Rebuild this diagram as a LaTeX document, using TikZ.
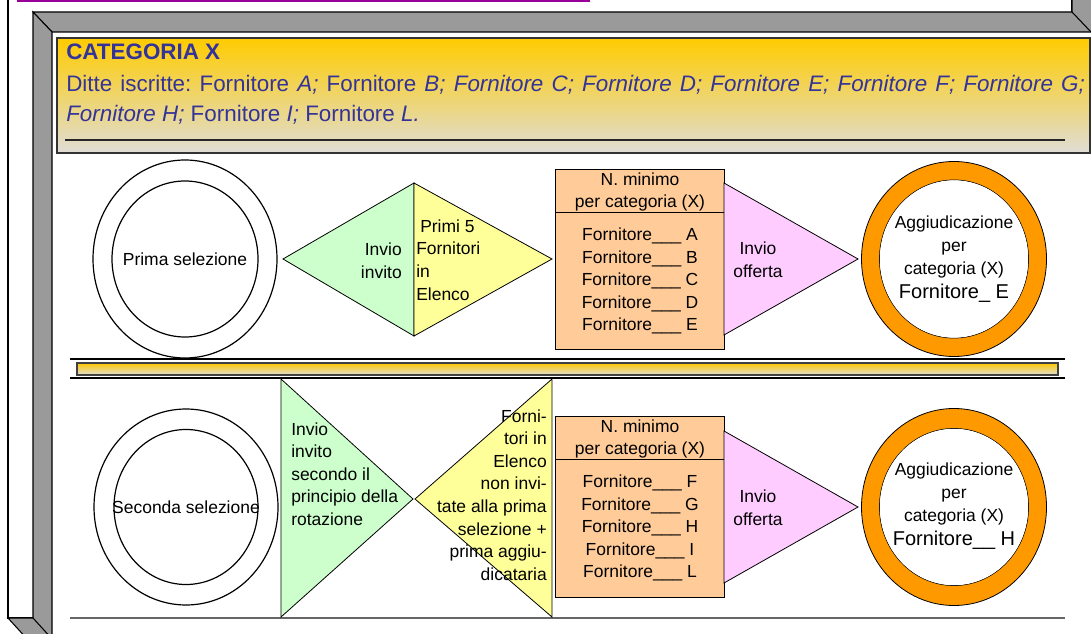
\documentclass[tikz,border=0pt]{standalone}
\usepackage{fontspec}
\setmainfont{Liberation Sans}
\usetikzlibrary{shapes.geometric}
\frenchspacing
\definecolor{fgray}{HTML}{9A9A9A}
\definecolor{hdrblue}{HTML}{333399}
\definecolor{gold}{HTML}{FFCC00}
\definecolor{greyish}{HTML}{DFDDD6}
\definecolor{lgreen}{HTML}{CCFFCC}
\definecolor{lyellow}{HTML}{FFFF99}
\definecolor{lorange}{HTML}{FFCC99}
\definecolor{lpink}{HTML}{FFCCFF}
\definecolor{dorange}{HTML}{FF9900}
\definecolor{topline}{HTML}{990099}
\tikzset{
  lbl/.style={inner sep=0pt, font=\fontsize{13.1}{16.9}\selectfont},
  big/.style={inner sep=0pt, font=\fontsize{15}{18}\selectfont},
  hdr/.style={inner sep=0pt, font=\fontsize{16.8}{21.75}\selectfont, text=hdrblue},
  shp/.style={draw=black, line width=0.6pt},
  frm/.style={draw=black, line width=0.8pt},
  sep/.style={draw=black, line width=1.1pt},
}
\begin{document}
\begin{tikzpicture}[x=0.75pt,y=-0.75pt]
\useasboundingbox (0,0) rectangle (1091,634);
% ---- frame ----
\fill[topline] (17,-3) rectangle (590,2);
\draw[frm] (8,-5) -- (8,618) -- (33,618);
\draw[frm] (1072,-5) -- (1072,12);
\filldraw[fill=fgray, frm] (33,12) -- (1072,12) -- (1072,-5) -- (1096,-5) -- (1096,32) -- (52,32) -- cycle;
\draw[frm] (1072,12) -- (1091,32);
\filldraw[fill=fgray, frm] (33,12) -- (52,32) -- (52,640) -- (33,640) -- cycle;
\filldraw[fill=fgray, frm] (8,618) -- (33,618) -- (53,640) -- (28,640) -- cycle;
% ---- header ----
\draw[top color=gold, bottom color=greyish, draw=black!80, line width=0.8pt] (57,38) rectangle (1090,153);
\draw[black!85, line width=0.9pt] (65,140) -- (1065,140);
\node[hdr, anchor=base west, font=\fontsize{16.8}{21.75}\selectfont\bfseries] (title) at (66,60) {CATEGORIA X};
\node[hdr, anchor=base west] (line1) at (66,92) {\makebox[764pt][s]{Ditte iscritte: Fornitore \textit{A;} Fornitore \textit{B;} \textit{Fornitore C;} \textit{Fornitore D;} \textit{Fornitore E;} \textit{Fornitore F;} \textit{Fornitore G;}}};
\node[hdr, anchor=base west] (line2) at (66,122) {\textit{Fornitore H;} Fornitore \textit{I;} Fornitore \textit{L.}};
% ---- separators ----
\draw[sep] (70,359) -- (1065,359);
\draw[top color=gold!95!orange, bottom color=greyish, draw=black!75, line width=0.8pt] (77,363) rectangle (1058,375);
\draw[sep] (70,378) -- (1065,378);
\draw[black!60, line width=1.3pt] (70,618) -- (1065,618);
% ---- row 1 ----
\draw[shp, line width=0.9pt] (185,259) ellipse [x radius=92, y radius=99];
\draw[shp, line width=0.9pt] (185,259) ellipse [x radius=73, y radius=78];
\node[lbl] (sel1) at (185,259) {Prima selezione};
\filldraw[shp, fill=lgreen] (283,259) -- (414,183) -- (414,336) -- cycle;
\filldraw[shp, fill=lyellow] (414,183) -- (552,259) -- (414,336) -- cycle;
\node[lbl, align=right, anchor=east] (inv1) at (402,261) {Invio\\invito};
\node[lbl, align=left, anchor=west] (prim) at (416,260) {\kern3pt Primi 5\\Fornitori\\in\\Elenco};
\filldraw[shp, fill=lorange] (555,169) rectangle (724,349);
\draw[shp] (555,212) -- (724,212);
\node[lbl, align=center] (min1) at (640,192) {N. minimo\\per categoria (X)};
\node[lbl, align=center] (list1) at (640,281) {Fornitore\_\_\_ A\\Fornitore\_\_\_ B\\Fornitore\_\_\_ C\\Fornitore\_\_\_ D\\Fornitore\_\_\_ E};
\filldraw[shp, fill=lpink] (724,183) -- (858,259) -- (724,335) -- cycle;
\node[lbl, align=center] (off1) at (758,260) {Invio\\offerta};
\filldraw[shp, fill=dorange, even odd rule] (954,259) ellipse [x radius=92.5, y radius=97.5] (954,259) ellipse [x radius=74.5, y radius=79];
\fill[white] (954,259) ellipse [x radius=74.2, y radius=78.7];
\node[lbl, align=center] (agg1) at (954,247) {Aggiudicazione\\per\\categoria (X)};
\node[big] (win1) at (954,293) {Fornitore\_ E};
% ---- row 2 ----
\draw[shp, line width=0.9pt] (186,507) ellipse [x radius=92, y radius=98];
\draw[shp, line width=0.9pt] (186,507) ellipse [x radius=72, y radius=77.5];
\node[lbl] (sel2) at (186,507) {Seconda selezione};
\filldraw[shp, fill=lgreen] (281,379) -- (413,499) -- (281,617) -- cycle;
\filldraw[shp, fill=lyellow] (552,379) -- (415,499) -- (552,617) -- cycle;
\node[lbl, align=left, anchor=west] (inv2) at (291,474) {Invio\\invito\\secondo il\\principio della\\rotazione};
\node[lbl, align=right, anchor=east] (forn2) at (547,495) {Forni-\\tori in\\Elenco\\non invi-\\tate alla prima\\selezione +\\prima aggiu-\\dicataria};
\filldraw[shp, fill=lorange] (555,416) rectangle (724,597);
\draw[shp] (555,459) -- (724,459);
\node[lbl, align=center] (min2) at (640,439) {N. minimo\\per categoria (X)};
\node[lbl, align=center] (list2) at (640,528) {Fornitore\_\_\_ F\\Fornitore\_\_\_ G\\Fornitore\_\_\_ H\\Fornitore\_\_\_ I\\Fornitore\_\_\_ L};
\filldraw[shp, fill=lpink] (724,431) -- (858,507) -- (724,583) -- cycle;
\node[lbl, align=center] (off2) at (758,508) {Invio\\offerta};
\filldraw[shp, fill=dorange, even odd rule] (954,507) ellipse [x radius=92.5, y radius=98.5] (954,507) ellipse [x radius=74.5, y radius=78.5];
\fill[white] (954,507) ellipse [x radius=74.2, y radius=78.2];
\node[lbl, align=center] (agg2) at (954,494) {Aggiudicazione\\per\\categoria (X)};
\node[big] (win2) at (954,540) {Fornitore\_\_ H};
\end{tikzpicture}
\end{document}
